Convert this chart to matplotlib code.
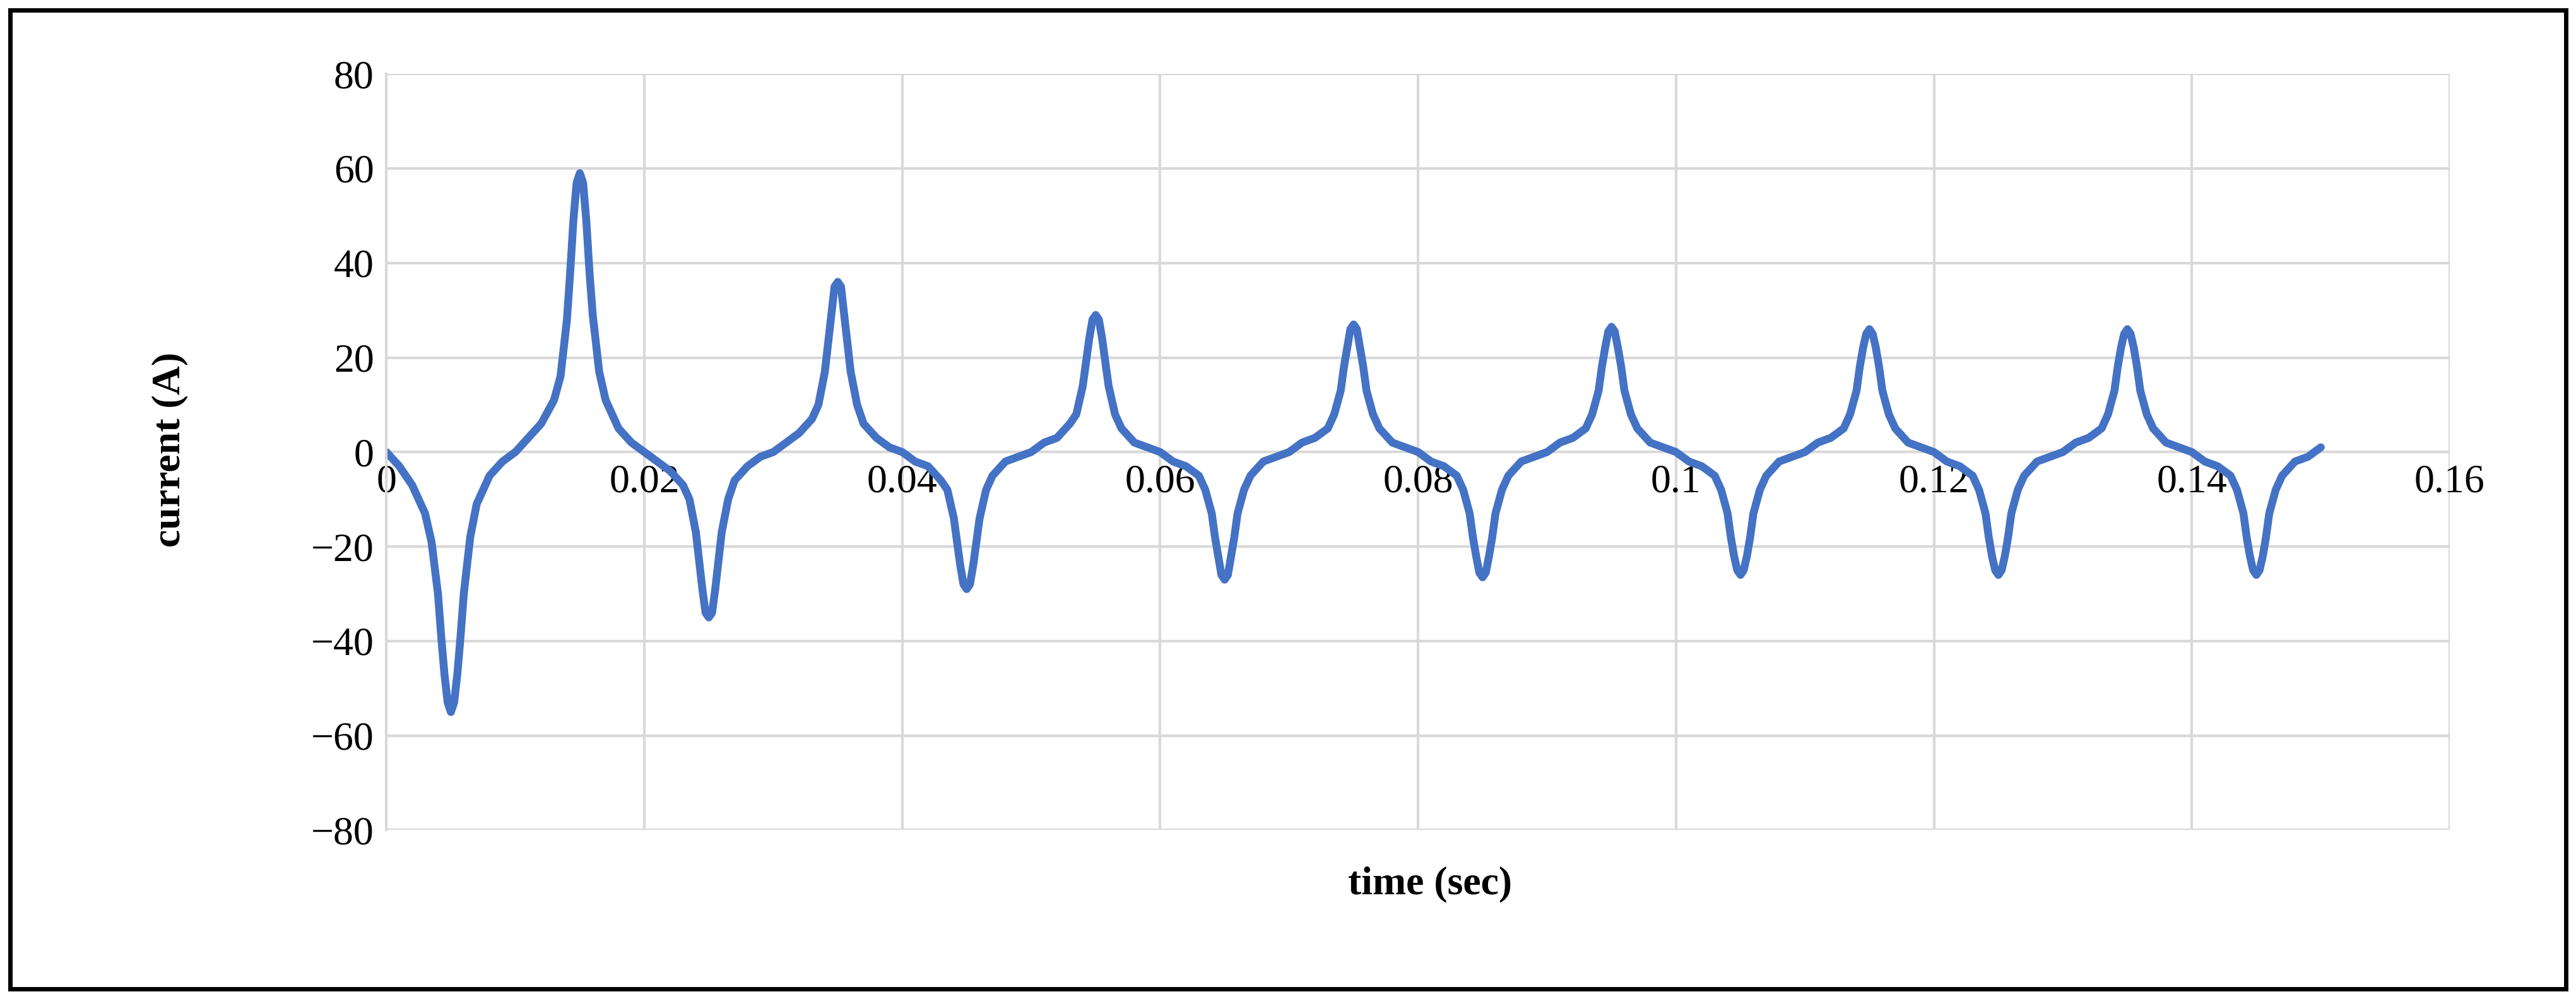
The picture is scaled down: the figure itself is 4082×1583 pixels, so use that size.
import matplotlib.pyplot as plt
from matplotlib.patches import Rectangle

# times of the extrema (valley, peak, valley, ...) in seconds
extremum_t = [0.005, 0.015, 0.025, 0.035, 0.045, 0.055, 0.065, 0.075,
              0.085, 0.095, 0.105, 0.115, 0.125, 0.135, 0.145]
# sample offsets (ms) around each extremum
offsets_ms = [-5, -4, -3, -2, -1.5, -1, -0.75, -0.5, -0.25, 0, 0.25, 0.5, 0.75, 1, 1.5, 2, 3, 4]
# current for each half cycle, at the offsets above
half_cycles = [
    [0, -3, -7, -13, -19, -30, -39, -47, -53, -55, -53, -47, -39, -30, -18, -11, -5, -2],
    [0, 3, 6, 11, 16, 28, 38, 49, 57, 59, 57, 49, 38, 29, 17, 11, 5, 2],
    [0, -2, -4, -7, -10, -17, -23, -29, -34, -35, -34, -29, -23, -17, -10, -6, -3, -1],
    [0, 2, 4, 7, 10, 17, 23, 29, 35, 36, 35, 29, 23, 17, 10, 6, 3, 1],
    [0, -2, -3, -6, -8, -14, -19, -24, -28, -29, -28, -24, -19, -14, -8, -5, -2, -1],
    [0, 2, 3, 6, 8, 14, 19, 24, 28, 29, 28, 24, 19, 14, 8, 5, 2, 1],
    [0, -2, -3, -5, -8, -13, -18, -22, -26, -27, -26, -22, -18, -13, -8, -5, -2, -1],
    [0, 2, 3, 5, 8, 13, 18, 22, 26, 27, 26, 22, 18, 13, 8, 5, 2, 1],
    [0, -2, -3, -5, -8, -13, -18, -22, -25.5, -26.5, -25.5, -22, -18, -13, -8, -5, -2, -1],
    [0, 2, 3, 5, 8, 13, 18, 22, 25.5, 26.5, 25.5, 22, 18, 13, 8, 5, 2, 1],
    [0, -2, -3, -5, -8, -13, -18, -22, -25, -26, -25, -22, -18, -13, -8, -5, -2, -1],
    [0, 2, 3, 5, 8, 13, 18, 22, 25, 26, 25, 22, 18, 13, 8, 5, 2, 1],
    [0, -2, -3, -5, -8, -13, -18, -22, -25, -26, -25, -22, -18, -13, -8, -5, -2, -1],
    [0, 2, 3, 5, 8, 13, 18, 22, 25, 26, 25, 22, 18, 13, 8, 5, 2, 1],
    [0, -2, -3, -5, -8, -13, -18, -22, -25, -26, -25, -22, -18, -13, -8, -5, -2, -1],
]
end_t, end_i = 0.15, 1

t, i = [], []
for tc, vals in zip(extremum_t, half_cycles):
    for d, v in zip(offsets_ms, vals):
        t.append(tc + d / 1000)
        i.append(v)
t.append(end_t)
i.append(end_i)

xticks = [0, 0.02, 0.04, 0.06, 0.08, 0.1, 0.12, 0.14, 0.16]
xticklabels = ['0', '0.02', '0.04', '0.06', '0.08', '0.1', '0.12', '0.14', '0.16']
yticks = [-80, -60, -40, -20, 0, 20, 40, 60, 80]
yticklabels = ['\u221280', '\u221260', '\u221240', '\u221220', '0', '20', '40', '60', '80']

plt.rcParams['font.family'] = ['Liberation Serif', 'DejaVu Serif']
fig = plt.figure(figsize=(40.82, 15.83), dpi=100)
ax = fig.add_axes([0.15, 0.169, 0.801, 0.757])
ax.plot(t, i, color='#4472C4', linewidth=9, solid_capstyle='round',
        solid_joinstyle='round')

ax.set_xlim(0, 0.16)
ax.set_ylim(-80, 80)
ax.set_xticks(xticks)
ax.set_xticklabels(xticklabels)
ax.set_yticks(yticks)
ax.set_yticklabels(yticklabels)
ax.grid(True, color='#d9d9d9', linewidth=3)
ax.set_axisbelow(True)
for s in ['top', 'right', 'bottom']:
    ax.spines[s].set_visible(False)
ax.spines['left'].set_color('#d9d9d9')
ax.spines['left'].set_linewidth(3)
ax.spines['bottom'].set_position(('data', 0))
ax.tick_params(length=0, labelsize=46, colors='black', pad=14)

fig.text(0.555, 0.115, 'time (sec)', ha='center', va='center',
         fontsize=46, fontweight='bold')
fig.text(0.066, 0.55, 'current (A)', ha='center', va='center',
         fontsize=46, fontweight='bold', rotation=90)

fig.patches.append(Rectangle((0.004, 0.01), 0.992, 0.98, transform=fig.transFigure,
                             fill=False, edgecolor='black', linewidth=5))
fig.savefig('out.png', dpi=100)
